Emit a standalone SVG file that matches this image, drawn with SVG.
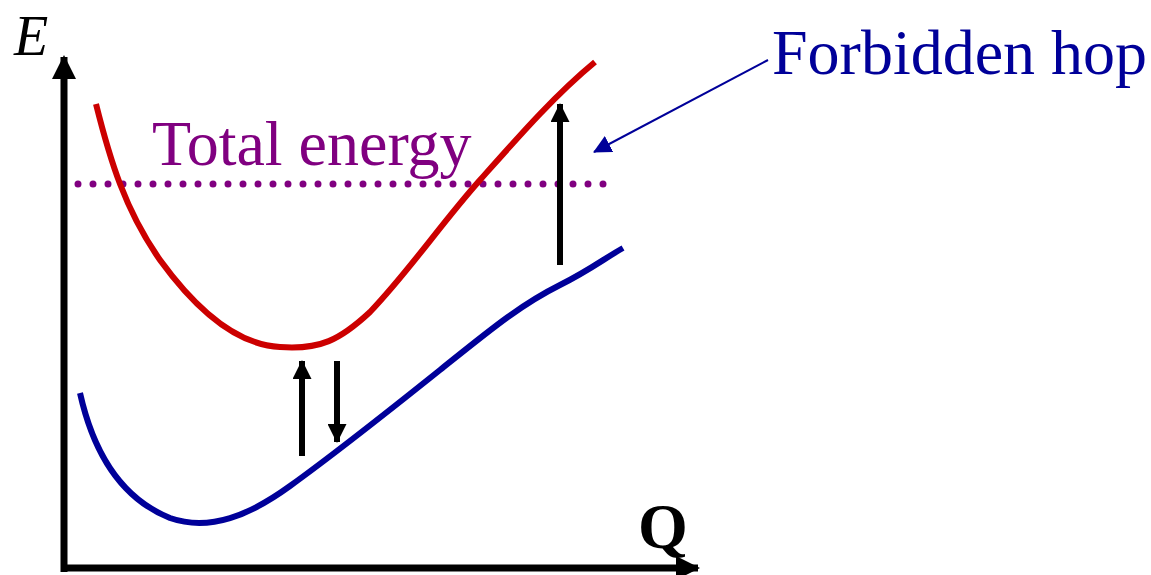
<svg xmlns="http://www.w3.org/2000/svg" width="1151" height="575" viewBox="0 0 1151 575">
<style>
.ax{stroke:#000;stroke-width:7;fill:none}
.arr{stroke:#000;stroke-width:6;fill:none}
.t{font-family:"Liberation Serif",serif}
</style>
<defs>
<marker id="bh" markerUnits="userSpaceOnUse" markerWidth="24" markerHeight="24" refX="22" refY="12" orient="auto" viewBox="0 0 24 24"><path d="M0,0 L24,12 L0,24 Z" fill="#000"/></marker>
<marker id="sh" markerUnits="userSpaceOnUse" markerWidth="19" markerHeight="19" refX="18" refY="9.5" orient="auto" viewBox="0 0 19 19"><path d="M0,0 L19,9.5 L0,19 Z" fill="#000"/></marker>
<marker id="blh" markerUnits="userSpaceOnUse" markerWidth="18" markerHeight="18" refX="17" refY="9" orient="auto" viewBox="0 0 18 18"><path d="M0,0 L18,9 L0,18 Z" fill="#000099"/></marker>
</defs>
<g id="axes">
<line class="ax" x1="64" y1="572" x2="64" y2="57" marker-end="url(#bh)"/>
<line class="ax" x1="61" y1="568" x2="698" y2="568" marker-end="url(#bh)"/>
<text class="t" x="14" y="55" font-size="56" font-style="italic">E</text>
<text class="t" x="638" y="548" font-size="64" font-weight="bold">Q</text>
</g>
<g id="total-energy">
<line x1="78" y1="184" x2="610" y2="184" stroke="#800080" stroke-width="7" stroke-linecap="round" stroke-dasharray="0 15"/>
<text class="t" x="152" y="165" font-size="64" fill="#800080">Total energy</text>
</g>
<g id="excited-curve">
<path d="M96,104 C110,160 125,210 160,260 C200,315 240,345 280,347 C320,350 340,340 370,312 C410,270 440,225 480,180 C520,135 555,95 595,62" stroke="#cc0000" stroke-width="6" fill="none"/>
</g>
<g id="ground-curve">
<path d="M80,393 C95,460 125,500 170,518 C210,532 250,515 290,486 C340,450 390,410 440,370 C490,330 520,305 560,285 C590,270 605,258 623,248" stroke="#000099" stroke-width="6" fill="none"/>
</g>
<g id="connectors">
<line class="arr" x1="302" y1="456" x2="302" y2="361" marker-end="url(#sh)"/>
<line class="arr" x1="337" y1="361" x2="337" y2="442" marker-end="url(#sh)"/>
<line class="arr" x1="560" y1="265" x2="560" y2="104" marker-end="url(#sh)"/>
<line x1="768" y1="60" x2="594" y2="152" stroke="#000099" stroke-width="2" marker-end="url(#blh)"/>
</g>
<g id="forbidden-hop">
<text class="t" x="772" y="74" font-size="64" fill="#000099">Forbidden hop</text>
</g>
</svg>
